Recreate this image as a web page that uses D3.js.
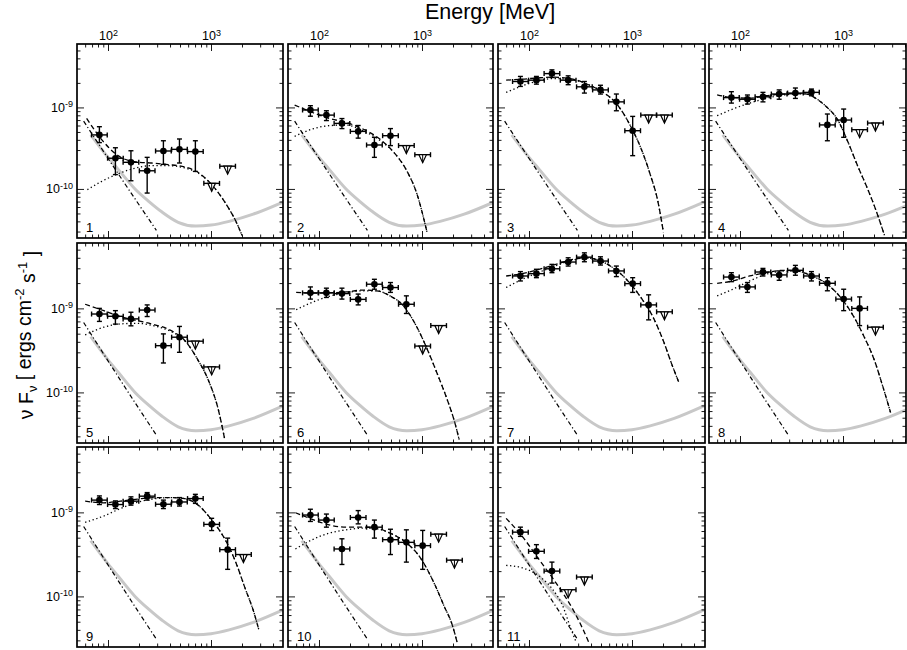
<!DOCTYPE html>
<html><head><meta charset="utf-8">
<script src="https://cdn.jsdelivr.net/npm/d3@7"></script>
<style>body{margin:0;background:#fff} text{font-family:"Liberation Sans",Arial,Helvetica,sans-serif;fill:#000}</style>
</head><body><svg id="c" width="907" height="650"></svg>
<script>
// ---------- data ----------
const panelLabels = ["1","2","3","4","5","6","7","8","9","10","11"];
const binCenters = [82.5, 118, 167, 240, 345, 494, 705, 1015, 1450, 2065]; // MeV
const binHalfDex = 0.076;
const xDomain = [50, 5000];
const yDomain = [2.5e-11, 6e-9];
const xMajorTicks = [100, 1000];
const xMajorExp = ["2", "3"];
const yMajorTicks = [1e-10, 1e-9];
const yMajorExp = ["-10", "-9"];
const xMinorTicks = [60,70,80,90,200,300,400,500,600,700,800,900,2000,3000,4000];
const yMinorTicks = [3e-11,4e-11,5e-11,6e-11,7e-11,8e-11,9e-11,2e-10,3e-10,4e-10,5e-10,6e-10,7e-10,8e-10,9e-10,2e-9,3e-9,4e-9,5e-9];

const panelFlux = [
 [4.6e-10, 2.38e-10, 2.12e-10, 1.67e-10, 2.92e-10, 3.06e-10, 2.87e-10],
 [9.3e-10, 8.05e-10, 6.37e-10, 5.08e-10, 3.46e-10, 4.5e-10],
 [2.08e-9, 2.16e-9, 2.6e-9, 2.16e-9, 1.79e-9, 1.64e-9, 1.17e-9, 5.18e-10],
 [1.32e-9, 1.26e-9, 1.35e-9, 1.46e-9, 1.5e-9, 1.53e-9, 6.1e-10, 7.0e-10],
 [8.57e-10, 8.05e-10, 7.5e-10, 9.55e-10, 3.6e-10, 4.54e-10],
 [1.53e-9, 1.53e-9, 1.5e-9, 1.28e-9, 1.94e-9, 1.77e-9, 1.12e-9],
 [2.43e-9, 2.59e-9, 2.96e-9, 3.56e-9, 4.07e-9, 3.66e-9, 2.79e-9, 1.97e-9, 1.1e-9],
 [2.36e-9, 1.8e-9, 2.71e-9, 2.5e-9, 2.84e-9, 2.43e-9, 1.99e-9, 1.29e-9, 1.0e-9],
 [1.4e-9, 1.24e-9, 1.36e-9, 1.56e-9, 1.25e-9, 1.33e-9, 1.46e-9, 7.2e-10, 3.6e-10],
 [9.3e-10, 8.1e-10, 3.67e-10, 8.7e-10, 6.67e-10, 4.73e-10, 4.4e-10, 4.02e-10],
 [5.82e-10, 3.44e-10, 2.0e-10]
];
const panelLo = [
 [3.7e-10, 1.5e-10, 1.26e-10, 0.89e-10, 2.0e-10, 2.08e-10, 1.64e-10],
 [7.8e-10, 6.9e-10, 5.5e-10, 4.2e-10, 2.44e-10, 3.4e-10],
 [1.81e-9, 1.93e-9, 2.33e-9, 1.9e-9, 1.5e-9, 1.46e-9, 9.1e-10, 2.56e-10],
 [1.13e-9, 1.1e-9, 1.17e-9, 1.26e-9, 1.29e-9, 1.39e-9, 3.9e-10, 4.3e-10],
 [7.0e-10, 6.5e-10, 6.2e-10, 8.0e-10, 2.24e-10, 3.0e-10],
 [1.29e-9, 1.35e-9, 1.29e-9, 1.1e-9, 1.69e-9, 1.55e-9, 8.7e-10],
 [2.12e-9, 2.32e-9, 2.66e-9, 3.19e-9, 3.59e-9, 3.28e-9, 2.39e-9, 1.55e-9, 7.3e-10],
 [2.08e-9, 1.55e-9, 2.43e-9, 2.16e-9, 2.48e-9, 2.12e-9, 1.62e-9, 9.4e-10, 6.24e-10],
 [1.24e-9, 1.11e-9, 1.22e-9, 1.4e-9, 1.11e-9, 1.19e-9, 1.28e-9, 6.08e-10, 2.1e-10],
 [7.8e-10, 6.67e-10, 2.4e-10, 7.3e-10, 4.94e-10, 3.15e-10, 2.56e-10, 2.1e-10],
 [5.18e-10, 2.83e-10, 1.44e-10]
];
const panelHi = [
 [5.8e-10, 3.2e-10, 2.94e-10, 2.44e-10, 3.9e-10, 4.1e-10, 3.9e-10],
 [1.05e-9, 9.1e-10, 7.3e-10, 6.0e-10, 4.3e-10, 5.5e-10],
 [2.4e-9, 2.4e-9, 2.89e-9, 2.44e-9, 2.08e-9, 1.87e-9, 1.46e-9, 7.76e-10],
 [1.56e-9, 1.42e-9, 1.53e-9, 1.64e-9, 1.73e-9, 1.68e-9, 8.3e-10, 9.55e-10],
 [1.0e-9, 9.4e-10, 9.0e-10, 1.1e-9, 4.97e-10, 6.1e-10],
 [1.8e-9, 1.74e-9, 1.74e-9, 1.48e-9, 2.22e-9, 2.03e-9, 1.41e-9],
 [2.74e-9, 2.92e-9, 3.34e-9, 4.0e-9, 4.58e-9, 4.11e-9, 3.19e-9, 2.32e-9, 1.45e-9],
 [2.66e-9, 2.03e-9, 2.99e-9, 2.79e-9, 3.25e-9, 2.74e-9, 2.32e-9, 1.69e-9, 1.37e-9],
 [1.57e-9, 1.37e-9, 1.53e-9, 1.72e-9, 1.4e-9, 1.5e-9, 1.64e-9, 8.5e-10, 4.94e-10],
 [1.09e-9, 9.55e-10, 4.85e-10, 1.05e-9, 8.1e-10, 6.3e-10, 6.2e-10, 6.1e-10],
 [6.67e-10, 4.13e-10, 2.56e-10]
];
// upper limits follow the detected bins
const panelUL = [
 [1.17e-10, 1.9e-10],
 [3.4e-10, 2.63e-10],
 [8.05e-10, 8.05e-10],
 [5.33e-10, 6.43e-10],
 [4.07e-10, 2.01e-10],
 [3.56e-10, 6.24e-10],
 [9.1e-10],
 [5.97e-10],
 [3.15e-10],
 [5.5e-10, 2.7e-10],
 [1.2e-10, 1.7e-10]
];

// total model (dashed)
const totalE = [
 [62, 86, 125, 181, 264, 383, 555, 748, 935, 1170, 1462, 1762, 2000],
 [58, 86, 125, 183, 267, 389, 526, 711, 893, 1119],
 [60, 86, 125, 170, 267, 389, 526, 711, 964, 1303, 1514, 1762, 2018],
 [60, 85, 124, 180, 263, 384, 446, 560, 702, 879, 1104, 1384, 1734, 2094, 2529],
 [60, 91, 132, 193, 281, 410, 555, 750, 942, 1180, 1352],
 [60, 86, 125, 183, 267, 361, 489, 661, 893, 1119, 1406, 1762, 2046, 2296],
 [60, 86, 125, 182, 265, 358, 483, 652, 881, 1189, 1603, 2009, 2421, 2858],
 [60, 85, 124, 180, 263, 356, 481, 702, 948, 1282, 1611, 2018, 2438, 2897],
 [60, 91, 132, 193, 281, 410, 555, 750, 1016, 1374, 1722, 2158, 2606, 2924],
 [59, 86, 125, 183, 267, 361, 489, 711, 964, 1303, 1633, 1972, 2208],
 [60, 86, 125, 182, 265, 332, 385]
];
const totalF = [
 [7.33e-10, 4.09e-10, 2.56e-10, 2.16e-10, 2.08e-10, 1.99e-10, 1.86e-10, 1.6e-10, 1.26e-10, 9.1e-11, 5.97e-11, 3.9e-11, 2.69e-11],
 [1.07e-9, 8.69e-10, 7.33e-10, 6.55e-10, 5.43e-10, 4.09e-10, 2.86e-10, 1.67e-10, 8.69e-11, 2.94e-11],
 [2.16e-9, 2.22e-9, 2.31e-9, 2.35e-9, 2.22e-9, 1.87e-9, 1.53e-9, 1.1e-9, 5.97e-10, 2.56e-10, 1.46e-10, 7.55e-11, 2.94e-11],
 [1.43e-9, 1.32e-9, 1.3e-9, 1.39e-9, 1.46e-9, 1.48e-9, 1.46e-9, 1.26e-9, 1.0e-9, 7.2e-10, 3.91e-10, 1.93e-10, 1.0e-10, 5.43e-11, 2.69e-11],
 [1.12e-9, 9.38e-10, 7.98e-10, 7.14e-10, 6.41e-10, 5.45e-10, 4.15e-10, 2.41e-10, 1.4e-10, 6.18e-11, 2.86e-11],
 [1.55e-9, 1.52e-9, 1.53e-9, 1.57e-9, 1.65e-9, 1.62e-9, 1.41e-9, 1.07e-9, 5.97e-10, 3.31e-10, 1.67e-10, 8.13e-11, 4.71e-11, 2.74e-11],
 [2.43e-9, 2.59e-9, 2.92e-9, 3.34e-9, 3.83e-9, 4.0e-9, 3.72e-9, 3.05e-9, 2.22e-9, 1.41e-9, 7.83e-10, 4.15e-10, 2.2e-10, 1.3e-10],
 [1.99e-9, 2.12e-9, 2.43e-9, 2.66e-9, 2.84e-9, 2.79e-9, 2.48e-9, 1.94e-9, 1.35e-9, 7.83e-10, 4.54e-10, 2.41e-10, 1.17e-10, 5.75e-11],
 [1.36e-9, 1.3e-9, 1.36e-9, 1.44e-9, 1.5e-9, 1.5e-9, 1.46e-9, 1.22e-9, 8.13e-10, 4.73e-10, 2.63e-10, 1.22e-10, 6.49e-11, 3.94e-11],
 [9.91e-10, 8.28e-10, 7.1e-10, 6.67e-10, 6.67e-10, 6.49e-10, 5.66e-10, 4.32e-10, 2.88e-10, 1.46e-10, 7.76e-11, 4.52e-11, 2.75e-11],
 [8.49e-10, 5.18e-10, 2.75e-10, 1.46e-10, 7.1e-11, 4.13e-11, 2.75e-11]
];
// cut-off component (dotted)
const compE = [
 [63, 86, 125, 181, 264, 383, 555, 748, 935, 1170, 1462, 1762, 2000],
 [58, 86, 125, 183, 267, 389, 526, 711, 893, 1119],
 [60, 86, 125, 170, 267, 389, 526, 711, 964, 1303, 1514, 1762, 2018],
 [60, 85, 124, 180, 263, 384, 446, 560, 702, 879, 1104, 1384, 1734, 2094, 2529],
 [60, 91, 132, 193, 281, 410, 555, 750, 942, 1180, 1352],
 [60, 86, 125, 183, 267, 361, 489, 661, 893, 1119, 1406, 1762, 2046, 2296],
 [60, 86, 125, 182, 265, 358, 483, 652, 881, 1189, 1603, 2009, 2421, 2858],
 [60, 85, 124, 180, 263, 356, 481, 702, 948, 1282, 1611, 2018, 2438, 2897],
 [60, 91, 132, 193, 281, 410, 555, 750, 1016, 1374, 1722, 2158, 2606, 2924],
 [59, 86, 125, 183, 267, 361, 489, 711, 964, 1303, 1633, 1972, 2208],
 [60, 86, 125, 169, 212, 255, 286]
];
const compF = [
 [9.8e-11, 1.23e-10, 1.53e-10, 1.79e-10, 1.93e-10, 1.93e-10, 1.81e-10, 1.57e-10, 1.26e-10, 9.1e-11, 5.97e-11, 3.9e-11, 2.69e-11],
 [4.42e-10, 5.43e-10, 5.97e-10, 6.08e-10, 5.18e-10, 3.95e-10, 2.86e-10, 1.67e-10, 8.69e-11, 2.94e-11],
 [1.53e-9, 1.84e-9, 2.12e-9, 2.26e-9, 2.18e-9, 1.87e-9, 1.53e-9, 1.1e-9, 5.97e-10, 2.56e-10, 1.46e-10, 7.55e-11, 2.94e-11],
 [7.91e-10, 9.55e-10, 1.13e-9, 1.29e-9, 1.42e-9, 1.47e-9, 1.46e-9, 1.26e-9, 1.0e-9, 7.2e-10, 3.91e-10, 1.93e-10, 1.0e-10, 5.43e-11, 2.69e-11],
 [4.84e-10, 5.97e-10, 6.53e-10, 6.65e-10, 6.18e-10, 5.3e-10, 4.15e-10, 2.41e-10, 1.4e-10, 6.18e-11, 2.86e-11],
 [9.64e-10, 1.18e-9, 1.39e-9, 1.53e-9, 1.62e-9, 1.62e-9, 1.41e-9, 1.07e-9, 5.97e-10, 3.31e-10, 1.67e-10, 8.13e-11, 4.71e-11, 2.74e-11],
 [1.77e-9, 2.22e-9, 2.69e-9, 3.22e-9, 3.76e-9, 4.0e-9, 3.72e-9, 3.05e-9, 2.22e-9, 1.41e-9, 7.83e-10, 4.15e-10, 2.2e-10, 1.3e-10],
 [1.41e-9, 1.69e-9, 2.12e-9, 2.55e-9, 2.77e-9, 2.79e-9, 2.48e-9, 1.94e-9, 1.35e-9, 7.83e-10, 4.54e-10, 2.41e-10, 1.17e-10, 5.75e-11],
 [7.62e-10, 9.06e-10, 1.11e-9, 1.32e-9, 1.45e-9, 1.5e-9, 1.46e-9, 1.22e-9, 8.13e-10, 4.73e-10, 2.63e-10, 1.22e-10, 6.49e-11, 3.94e-11],
 [3.67e-10, 4.73e-10, 5.66e-10, 6.19e-10, 6.49e-10, 6.37e-10, 5.66e-10, 4.32e-10, 2.88e-10, 1.46e-10, 7.76e-11, 4.52e-11, 2.75e-11],
 [2.34e-10, 2.19e-10, 1.75e-10, 1.22e-10, 7.76e-11, 4.13e-11, 2.88e-11]
];
// soft power-law component (dash-dot), same in every panel
const softE = [58, 125, 295];
const softF = [6.8e-10, 1.55e-10, 3.1e-11];
// sensitivity curve (grey), same in every panel
const sensE = [68, 100, 125, 183, 250, 335, 480, 711, 1000, 1500, 2570, 5000];
const sensF = [4.6e-10, 2.44e-10, 1.75e-10, 1.0e-10, 7.0e-11, 5.2e-11, 3.9e-11, 3.5e-11, 3.6e-11, 4.0e-11, 4.9e-11, 6.9e-11];

// ---------- drawing ----------
const svg = d3.select("#c");
svg.append("rect").attr("width", 907).attr("height", 650).attr("fill", "#fff");

const colLeft = [77, 288, 498, 709];
const frameW = [206, 205, 207, 197];
const rowTop = [44, 243, 447];
const rowH = [194, 200, 200];
const plotW = 206;

function addAxis(g, axisFn, scale, values, size, tx, ty, exps) {
  const a = axisFn(scale).tickValues(values).tickSizeInner(-size).tickSizeOuter(0)
    .tickPadding(4).tickFormat(() => "");
  const ag = g.append("g").attr("transform", `translate(${tx},${ty})`).call(a);
  ag.attr("font-family", null).attr("font-size", 12.5);
  ag.select(".domain").remove();
  ag.selectAll(".tick line").attr("stroke", "#000").attr("stroke-width", 0.9);
  if (exps) {
    ag.selectAll(".tick text").each(function (d, k) {
      const t = d3.select(this);
      t.append("tspan").text("10");
      t.append("tspan").attr("dy", "-0.5em").attr("font-size", "9px").text(exps[k]);
    });
  }
}

panelLabels.forEach((lab, i) => {
  const r = Math.floor(i / 4), c = i % 4, H = rowH[r], W = frameW[c];
  const g = svg.append("g").attr("transform", `translate(${colLeft[c]},${rowTop[r]})`);
  const x = d3.scaleLog().domain(xDomain).range([0, plotW]);
  const y = d3.scaleLog().domain(yDomain).range([H, 0]);
  const cid = "clip" + i;
  g.append("clipPath").attr("id", cid).append("rect").attr("width", W).attr("height", H);
  const plot = g.append("g").attr("clip-path", `url(#${cid})`);
  const line = d3.line().x(d => x(d[0])).y(d => y(d[1])).curve(d3.curveMonotoneX);

  plot.append("path").datum(d3.zip(sensE, sensF)).attr("d", line)
    .attr("fill", "none").attr("stroke", "#c8c8c8").attr("stroke-width", 3);
  plot.append("path").datum(d3.zip(softE, softF)).attr("d", line)
    .attr("fill", "none").attr("stroke", "#000").attr("stroke-width", 1.2)
    .attr("stroke-dasharray", "4.5,2.5,1.2,2.5");
  plot.append("path").datum(d3.zip(compE[i], compF[i])).attr("d", line)
    .attr("fill", "none").attr("stroke", "#000").attr("stroke-width", 1.3)
    .attr("stroke-dasharray", "1.3,2.6");
  plot.append("path").datum(d3.zip(totalE[i], totalF[i])).attr("d", line)
    .attr("fill", "none").attr("stroke", "#000").attr("stroke-width", 1.3)
    .attr("stroke-dasharray", "5,3");

  const pts = plot.append("g").attr("stroke", "#000").attr("stroke-width", 1.4);
  const hw = Math.pow(10, binHalfDex);
  panelFlux[i].forEach((f, j) => {
    const E = binCenters[j];
    const xl = x(E / hw), xh = x(E * hw), xc = x(E);
    const yc = y(f), yl = y(panelLo[i][j]), yh = y(panelHi[i][j]);
    pts.append("line").attr("x1", xl).attr("x2", xh).attr("y1", yc).attr("y2", yc);
    pts.append("line").attr("x1", xl).attr("x2", xl).attr("y1", yc - 2.5).attr("y2", yc + 2.5);
    pts.append("line").attr("x1", xh).attr("x2", xh).attr("y1", yc - 2.5).attr("y2", yc + 2.5);
    pts.append("line").attr("x1", xc).attr("x2", xc).attr("y1", yl).attr("y2", yh);
    pts.append("line").attr("x1", xc - 2.5).attr("x2", xc + 2.5).attr("y1", yl).attr("y2", yl);
    pts.append("line").attr("x1", xc - 2.5).attr("x2", xc + 2.5).attr("y1", yh).attr("y2", yh);
    pts.append("circle").attr("cx", xc).attr("cy", yc).attr("r", 3.3).attr("fill", "#000").attr("stroke", "none");
  });
  panelUL[i].forEach((u, k) => {
    const E = binCenters[panelFlux[i].length + k];
    const xl = x(E / hw), xh = x(E * hw), xc = x(E), yu = y(u);
    pts.append("line").attr("x1", xl).attr("x2", xh).attr("y1", yu).attr("y2", yu);
    pts.append("line").attr("x1", xl).attr("x2", xl).attr("y1", yu - 2.5).attr("y2", yu + 2.5);
    pts.append("line").attr("x1", xh).attr("x2", xh).attr("y1", yu - 2.5).attr("y2", yu + 2.5);
    pts.append("path").attr("d", `M${xc - 3.8},${yu}L${xc + 3.8},${yu}L${xc},${yu + 8}Z`)
      .attr("fill", "#fff").attr("stroke-width", 1.2);
    pts.append("line").attr("x1", xc).attr("x2", xc).attr("y1", yu).attr("y2", yu + 8).attr("stroke-width", 1);
  });

  // ticks on all four sides, pointing inward
  addAxis(g, d3.axisBottom, x, xMajorTicks, 7, 0, H, null);
  addAxis(g, d3.axisBottom, x, xMinorTicks, 3.5, 0, H, null);
  addAxis(g, d3.axisTop, x, xMajorTicks, 7, 0, 0, r === 0 ? xMajorExp : null);
  addAxis(g, d3.axisTop, x, xMinorTicks, 3.5, 0, 0, null);
  addAxis(g, d3.axisLeft, y, yMajorTicks, 7, 0, 0, c === 0 ? yMajorExp : null);
  addAxis(g, d3.axisLeft, y, yMinorTicks, 3.5, 0, 0, null);
  addAxis(g, d3.axisRight, y, yMajorTicks, 7, W, 0, null);
  addAxis(g, d3.axisRight, y, yMinorTicks, 3.5, W, 0, null);

  g.append("rect").attr("width", W).attr("height", H)
    .attr("fill", "none").attr("stroke", "#000").attr("stroke-width", 1.7);
  g.append("text").attr("x", 9).attr("y", H - 6).attr("font-size", 13).text(lab);
});

// titles
svg.append("text").attr("x", 490).attr("y", 19).attr("text-anchor", "middle")
  .attr("font-size", 21.5).text("Energy [MeV]");
const yl = svg.append("text").attr("transform", "translate(33,335) rotate(-90)")
  .attr("text-anchor", "middle").attr("font-size", 19.5);
yl.append("tspan").text("ν F");
yl.append("tspan").attr("dy", "0.3em").attr("font-size", "13px").text("ν");
yl.append("tspan").attr("dy", "-0.3em").text(" [ ergs cm");
yl.append("tspan").attr("dy", "-0.55em").attr("font-size", "13px").text("-2");
yl.append("tspan").attr("dy", "0.55em").text(" s");
yl.append("tspan").attr("dy", "-0.55em").attr("font-size", "13px").text("-1");
yl.append("tspan").attr("dy", "0.55em").text(" ]");
</script>
</body></html>
